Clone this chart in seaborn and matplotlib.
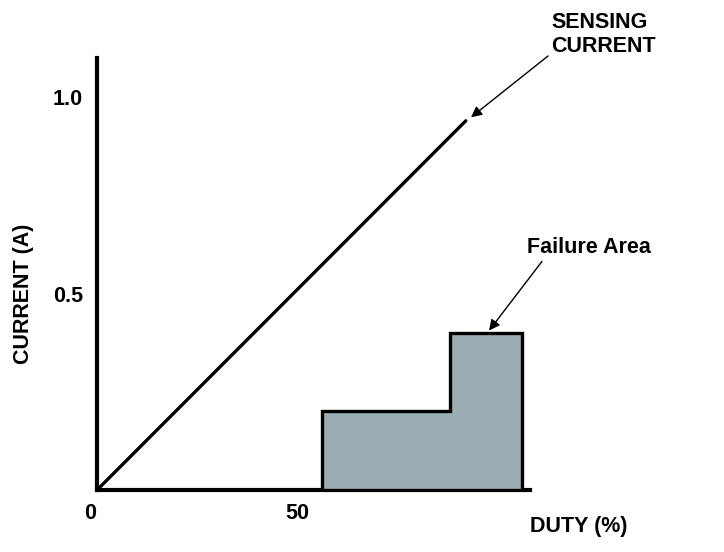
import matplotlib
matplotlib.use("Agg")
import matplotlib.pyplot as plt
import matplotlib.transforms as mtransforms
import seaborn as sns

# data
duty_line = [0, 92]
current_line = [0, 0.94]

fail_edges = [56, 88, 106]     # duty (%) where the failure steps start/change/end
fail_levels = [0.2, 0.4]       # current (A) of each step

x_ticks = [0, 50]
y_ticks = [0.5, 1.0]
x_tick_labels = ["0", "50"]
y_tick_labels = ["0.5", "1.0"]

FS = 15.5

sns.set_style("white")
plt.rcParams["font.family"] = ["Liberation Sans", "DejaVu Sans"]
plt.rcParams["font.weight"] = "bold"
plt.rcParams["text.color"] = "black"
plt.rcParams["axes.labelcolor"] = "black"
plt.rcParams["xtick.color"] = "black"
plt.rcParams["ytick.color"] = "black"

fig = plt.figure(figsize=(7.24, 5.52), dpi=100)
ax = fig.add_axes([0.134, 0.1123, 0.598, 0.7827])

# sensing current line
sns.lineplot(x=duty_line, y=current_line, ax=ax, color="black", linewidth=2.4)

# failure area (stepped polygon)
poly_x = [fail_edges[0], fail_edges[0], fail_edges[1], fail_edges[1], fail_edges[2], fail_edges[2]]
poly_y = [0, fail_levels[0], fail_levels[0], fail_levels[1], fail_levels[1], 0]
ax.fill(poly_x, poly_y, facecolor="#9badb3", edgecolor="black", linewidth=2.4, zorder=3)

ax.set_xlim(0, 108)
ax.set_ylim(0, 1.1)

sns.despine(ax=ax)
for s in ["left", "bottom"]:
    ax.spines[s].set_linewidth(3)
    ax.spines[s].set_color("black")
    ax.spines[s].set_capstyle("projecting")

ax.set_xticks(x_ticks)
ax.set_xticklabels(x_tick_labels)
ax.set_yticks(y_ticks)
ax.set_yticklabels(y_tick_labels)
ax.tick_params(axis="both", length=0, labelsize=FS, labelcolor="black")
ax.tick_params(axis="x", pad=9)
ax.tick_params(axis="y", pad=10)
for t in ax.get_xticklabels() + ax.get_yticklabels():
    t.set_fontweight("bold")
# the "0" sits a little left of the origin
lbl0 = ax.get_xticklabels()[0]
lbl0.set_transform(lbl0.get_transform() + mtransforms.ScaledTranslation(-7 / 100, 0, fig.dpi_scale_trans))

ax.set_ylabel("CURRENT (A)", fontsize=FS, fontweight="bold", color="black")
ax.yaxis.set_label_coords(-0.145, 0.454)
ax.set_xlabel("DUTY (%)", fontsize=FS, fontweight="bold", ha="left", color="black")
ax.xaxis.set_label_coords(1.0, -0.06)

# annotations
arrow = dict(arrowstyle="-|>", color="black", lw=1, mutation_scale=16, shrinkA=0, shrinkB=0)
ax.text(113.3, 1.16, "SENSING\nCURRENT", fontsize=FS, fontweight="bold", color="black",
        ha="left", va="center", linespacing=1.2, clip_on=False)
ax.annotate("", xy=(93.3, 0.949), xytext=(112.5, 1.105), arrowprops=arrow,
            annotation_clip=False)
ax.text(107.3, 0.617, "Failure Area", fontsize=FS, fontweight="bold", color="black",
        ha="left", va="center", clip_on=False)
ax.annotate("", xy=(97.8, 0.406), xytext=(111, 0.582), arrowprops=arrow,
            annotation_clip=False)

fig.savefig("out.png", dpi=100)
